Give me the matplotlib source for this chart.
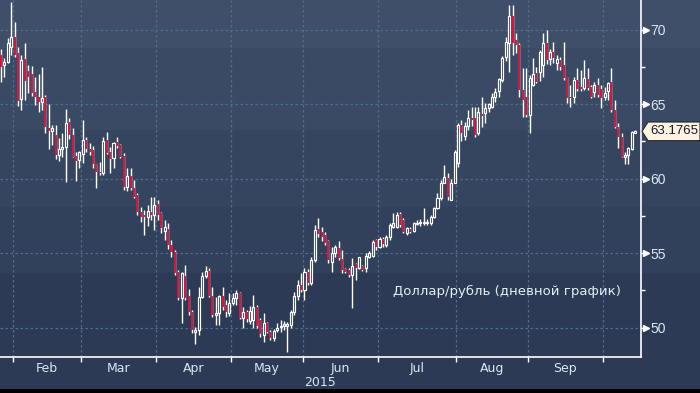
import numpy as np
import pandas as pd
import matplotlib
matplotlib.use("Agg")
import matplotlib.pyplot as plt
from matplotlib.patches import Polygon, Rectangle
from matplotlib.transforms import blended_transform_factory

# USD/RUB daily candles
start_date = "2015-01-27"

opens = [68.30, 67.63, 67.85, 68.86, 69.49, 68.46, 65.32, 68.01, 67.23, 67.02,
         65.82, 65.50, 65.17, 65.50, 63.38, 63.22, 62.93, 61.59, 61.97, 62.10,
         63.83, 62.93, 61.52, 61.25, 61.66, 62.60, 61.97, 61.92, 61.03, 60.47,
         60.36, 62.60, 61.81, 61.36, 62.48, 62.26, 61.54, 59.42, 60.18, 59.35,
         58.90, 57.79, 57.56, 57.43, 57.79, 57.56, 58.32, 57.72, 56.51, 56.60,
         55.55, 55.10, 53.76, 51.97, 53.47, 52.13, 51.07, 49.73, 49.84, 52.03,
         53.47, 53.82, 52.13, 50.85, 50.96, 52.13, 51.52, 50.96, 51.63, 51.97,
         52.30, 50.67, 51.07, 50.45, 50.51, 51.41, 50.51, 49.51, 50.29, 49.73,
         49.28, 49.84, 50.02, 50.13, 50.13, 50.18, 51.03, 52.13, 52.85, 52.51,
         53.75, 52.97, 54.54, 56.62, 56.44, 56.22, 55.82, 54.43, 54.99, 55.37,
         54.58, 53.92, 53.87, 53.54, 54.27, 53.98, 54.14, 53.98, 54.76, 54.81,
         55.88, 55.44, 55.93, 55.55, 56.11, 56.78, 56.78, 57.63, 57.23, 56.33,
         56.60, 56.51, 56.96, 57.00, 57.00, 57.00, 57.00, 57.45, 58.01, 58.68,
         59.73, 60.02, 58.57, 59.73, 61.03, 63.60, 62.86, 63.53, 64.05, 64.05,
         63.04, 64.34, 64.39, 64.72, 64.83, 65.50, 65.91, 66.62, 68.19, 69.08,
         70.92, 69.31, 68.97, 65.95, 65.50, 64.27, 66.29, 67.07, 67.18, 67.63,
         69.13, 68.01, 68.52, 67.74, 67.96, 67.63, 66.80, 65.50, 65.50, 66.62,
         66.17, 66.06, 66.67, 66.13, 65.84, 66.29, 66.00, 65.46, 65.91, 66.51,
         64.61, 63.49, 62.82, 61.43, 61.59, 61.97, 63.09]

highs = [68.68, 68.08, 69.42, 71.88, 70.54, 68.86, 68.30, 69.08, 67.63, 67.56,
         66.85, 67.02, 67.52, 65.62, 65.01, 63.60, 63.60, 62.71, 63.04, 64.65,
         64.05, 63.38, 61.81, 61.88, 63.94, 62.82, 62.37, 62.19, 61.07, 61.14,
         62.82, 63.15, 62.15, 62.48, 62.82, 62.33, 61.70, 60.69, 60.69, 59.91,
         59.01, 58.12, 57.90, 58.25, 58.79, 58.79, 58.57, 57.79, 57.23, 57.00,
         55.88, 55.21, 53.87, 53.76, 54.20, 52.57, 51.19, 50.07, 52.75, 53.76,
         54.14, 53.98, 52.75, 52.08, 52.20, 52.71, 51.86, 52.30, 52.35, 52.53,
         52.37, 51.41, 51.19, 51.48, 52.19, 51.52, 50.63, 50.96, 50.40, 49.84,
         49.91, 50.29, 50.51, 50.45, 50.40, 51.19, 52.40, 53.20, 53.64, 53.98,
         53.93, 54.76, 56.89, 57.38, 56.78, 56.44, 55.88, 55.43, 55.55, 55.82,
         55.21, 53.98, 53.98, 54.65, 54.31, 54.76, 54.20, 54.99, 55.14, 55.88,
         55.93, 56.11, 56.11, 56.22, 57.00, 57.72, 57.79, 57.79, 57.34, 56.78,
         56.73, 57.11, 57.23, 57.27, 58.01, 57.27, 57.56, 58.08, 59.01, 59.91,
         60.92, 60.36, 59.95, 61.92, 63.71, 63.94, 63.82, 64.61, 64.79, 64.79,
         64.83, 65.50, 65.06, 65.10, 65.73, 66.06, 66.74, 68.23, 69.49, 71.66,
         71.66, 69.75, 69.08, 67.40, 67.40, 66.96, 68.08, 67.52, 68.64, 69.75,
         69.98, 68.68, 69.19, 68.30, 68.19, 69.19, 66.85, 66.29, 66.80, 67.40,
         67.29, 67.96, 67.40, 66.29, 66.51, 66.73, 66.29, 66.13, 66.51, 67.40,
         65.28, 63.71, 63.09, 61.81, 62.15, 63.22, 63.27]

lows = [66.51, 66.80, 67.74, 68.30, 68.19, 64.88, 64.61, 65.28, 65.73, 65.55,
        64.94, 64.50, 64.61, 63.09, 61.97, 62.26, 61.30, 61.21, 61.48, 59.80,
        62.64, 61.43, 59.87, 60.69, 61.03, 61.81, 61.59, 60.69, 59.40, 60.25,
        60.25, 61.66, 60.40, 60.69, 62.04, 61.36, 59.24, 59.19, 59.24, 58.68,
        57.56, 57.11, 56.22, 56.85, 57.23, 56.56, 57.23, 56.33, 55.85, 55.26,
        54.76, 53.53, 51.86, 50.29, 51.86, 50.85, 49.66, 48.89, 49.51, 51.97,
        53.31, 52.08, 50.74, 50.18, 50.18, 51.19, 50.74, 50.78, 51.52, 51.52,
        50.58, 49.95, 50.40, 50.22, 49.95, 49.95, 49.40, 49.06, 49.62, 49.17,
        49.10, 49.69, 49.73, 49.84, 48.39, 49.95, 50.85, 51.83, 52.40, 51.83,
        52.85, 52.85, 54.43, 56.11, 55.82, 55.55, 54.31, 53.76, 54.76, 54.54,
        53.69, 53.65, 53.42, 51.30, 53.20, 53.92, 53.83, 53.76, 54.65, 54.76,
        55.21, 55.32, 55.44, 55.44, 55.88, 56.67, 56.67, 56.78, 56.33, 56.22,
        56.33, 56.44, 56.89, 56.84, 56.89, 56.91, 56.89, 57.34, 57.95, 58.57,
        59.69, 58.57, 58.57, 59.69, 60.81, 62.55, 62.60, 63.27, 63.53, 62.82,
        62.93, 63.45, 63.71, 64.50, 64.72, 65.17, 65.50, 66.51, 67.92, 67.18,
        68.30, 68.41, 65.50, 64.16, 64.16, 63.04, 66.22, 66.40, 66.58, 66.80,
        67.70, 67.63, 67.74, 67.29, 67.29, 66.62, 65.06, 64.79, 65.06, 65.91,
        65.91, 65.95, 65.95, 65.39, 65.50, 65.50, 64.72, 65.28, 65.28, 64.50,
        63.38, 62.04, 61.48, 60.98, 60.98, 61.92, 63.04]

closes = [67.52, 67.85, 69.08, 69.49, 68.30, 65.23, 67.96, 66.58, 66.85, 65.77,
          65.46, 65.17, 65.39, 63.49, 63.22, 63.38, 61.59, 61.99, 62.15, 63.76,
          62.93, 61.48, 61.21, 61.81, 62.60, 61.97, 61.81, 60.96, 60.47, 60.36,
          62.55, 61.74, 61.30, 62.37, 62.19, 61.48, 59.42, 60.18, 59.35, 58.79,
          57.79, 57.45, 57.45, 57.85, 57.56, 58.25, 57.56, 56.67, 56.73, 55.55,
          55.10, 53.69, 51.97, 53.64, 51.97, 51.07, 49.84, 49.84, 52.03, 53.47,
          53.82, 52.13, 50.85, 50.96, 52.13, 51.41, 51.07, 51.63, 51.97, 52.30,
          50.67, 51.03, 50.58, 51.12, 51.41, 50.13, 49.55, 50.29, 49.73, 49.28,
          49.77, 49.95, 50.13, 50.22, 50.22, 51.03, 52.13, 52.85, 52.51, 53.75,
          52.97, 54.54, 56.55, 56.26, 56.11, 55.66, 54.54, 54.99, 55.43, 54.65,
          53.87, 53.76, 53.54, 54.14, 53.98, 54.72, 53.87, 54.81, 55.03, 55.77,
          55.39, 55.93, 55.62, 56.11, 56.89, 57.00, 57.56, 56.89, 56.44, 56.67,
          56.44, 57.00, 57.05, 57.11, 57.09, 57.11, 57.45, 58.01, 58.68, 59.73,
          60.09, 58.75, 59.73, 61.81, 63.60, 63.09, 63.53, 64.05, 63.94, 62.93,
          64.50, 64.21, 64.72, 65.01, 65.50, 65.84, 66.67, 68.08, 69.19, 70.92,
          69.08, 68.97, 65.95, 65.28, 64.27, 66.73, 67.02, 66.51, 68.52, 69.13,
          67.96, 68.52, 68.08, 68.01, 67.52, 66.73, 65.39, 65.39, 66.62, 66.00,
          66.00, 66.73, 66.06, 65.46, 66.29, 65.62, 65.39, 65.73, 66.40, 64.61,
          63.49, 62.82, 61.48, 61.59, 62.04, 63.15, 63.1765]

y_ticks = [50, 55, 60, 65, 70]
y_minor_ticks = [52.5, 57.5, 62.5, 67.5]
year_label = "2015"
chart_caption = "Доллар/рубль (дневной график)"

W, H = 700, 393
dates = pd.bdate_range(start_date, periods=len(closes))
x = np.arange(len(closes))
o = np.array(opens)
c = np.array(closes)
hi = np.array(highs)
lo = np.array(lows)

fig = plt.figure(figsize=(W / 100, H / 100), dpi=100)

# stepped blue background
bg = fig.add_axes([0, 0, 1, 1])
bg.set_axis_off()
bg.set_xlim(0, 1)
bg.set_ylim(0, 1)
band_px = [0, 48, 130, 207, 273, H]
band_cols = ["#3f4f69", "#3a4a64", "#35455f", "#31405b", "#2c3a55"]
for k in range(len(band_cols)):
    bg.axhspan(1 - band_px[k + 1] / H, 1 - band_px[k] / H, color=band_cols[k], lw=0)
bg.add_patch(Rectangle((0, 0), 1, 4 / H, color="black", lw=0))

ax = fig.add_axes([0, (H - 356.7) / H, 641 / W, 356.7 / H])
ax.set_facecolor("none")
ax.set_xlim(-0.29, 187.68)
ax.set_ylim(48.05, 71.99)

# candles
up = c >= o
body_lo = np.minimum(o, c)
body_hi = np.maximum(o, c)
body_h = np.maximum(body_hi - body_lo, 0.08)
ax.vlines(x[up], body_hi[up], hi[up], color="white", lw=1, zorder=3)
ax.vlines(x[up], lo[up], body_lo[up], color="white", lw=1, zorder=3)
ax.vlines(x[~up], lo[~up], hi[~up], color="white", lw=1, zorder=3)
ax.bar(x[up], body_h[up], bottom=body_lo[up], width=0.6,
       facecolor="#2e3d58", edgecolor="white", linewidth=0.85, zorder=4)
ax.bar(x[~up], body_h[~up], bottom=body_lo[~up], width=0.6,
       color="#d4173f", linewidth=0, zorder=4)

# month boundaries and labels
bounds = [i - 0.5 for i in range(1, len(dates)) if dates[i].month != dates[i - 1].month]
mids = [(a + b) / 2 for a, b in zip(bounds[:-1], bounds[1:])]
month_names = [dates[int(np.ceil(m))].strftime("%b") for m in mids]

lab_col = "#dce6f2"
ax.set_xticks(bounds)
ax.set_xticklabels([])
ax.set_xticks(mids, minor=True)
ax.set_xticklabels(month_names, minor=True)
ax.tick_params(axis="x", which="major", direction="out", length=3.5, width=1, colors="white")
ax.tick_params(axis="x", which="minor", length=0, pad=4, labelsize=9, labelcolor=lab_col)

ax.yaxis.tick_right()
ax.set_yticks(y_ticks)
ax.set_yticks(y_minor_ticks, minor=True)
ax.tick_params(axis="y", which="major", direction="out", length=4, width=1, colors="white",
               pad=3, labelsize=10, labelcolor=lab_col)
ax.tick_params(axis="y", which="minor", direction="out", length=3, width=1, colors="white")
for t in ax.get_yticklabels():
    t.set_fontfamily("Liberation Sans")
tri = blended_transform_factory(ax.transAxes, ax.transData)
ax.plot(np.full(len(y_ticks), 1.0085), y_ticks, ls="none", marker=">", ms=4.5,
        color="white", transform=tri, clip_on=False, zorder=6)

ax.grid(which="major", color="#4e6e8e", linestyle=(0, (2, 2)), lw=0.9)
ax.set_axisbelow(True)

for s in ["top", "left"]:
    ax.spines[s].set_visible(False)
for s in ["bottom", "right"]:
    ax.spines[s].set_color("white")
    ax.spines[s].set_linewidth(1.2)

# last price tag
last = closes[-1]
half = 9.3 * (71.99 - 48.05) / 356.7
tag_tr = blended_transform_factory(fig.transFigure, ax.transData)
tag = Polygon([(642 / W, last), (648 / W, last + half), (1.0, last + half),
               (1.0, last - half), (648 / W, last - half)], closed=True,
              facecolor="#fdf3e2", edgecolor="#2a2a2a", lw=0.8,
              transform=tag_tr, clip_on=False, zorder=7)
ax.add_patch(tag)
ax.text(650 / W, last, f"{last:.4f}", transform=tag_tr, ha="left", va="center",
        fontsize=9.5, family="Liberation Sans", color="#15182a", zorder=8, clip_on=False)

ax.text(393 / 641, 1 - 291.7 / 356.7, chart_caption, transform=ax.transAxes,
        ha="left", va="center", fontsize=9.5, color="#e6edf5", zorder=5)
fig.text(320 / W, 1 - 382.5 / H, year_label, ha="center", va="center",
         fontsize=9, color=lab_col)

fig.savefig("out.png", dpi=100)
